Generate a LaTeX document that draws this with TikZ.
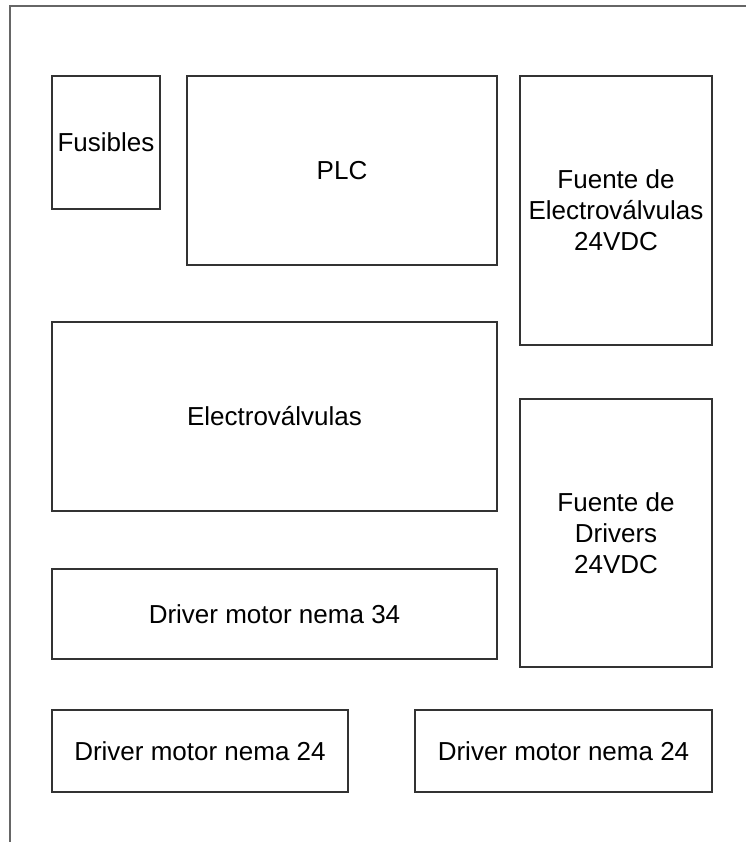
\documentclass[tikz,border=0pt]{standalone}
\usepackage{fontspec}
\setmainfont{Liberation Sans}
\usetikzlibrary{positioning}

\begin{document}
\begin{tikzpicture}[x=1pt,y=-1pt,
  blk/.style={draw=black!80,line width=1.3pt,align=center,inner sep=0pt,
    font=\fontsize{26}{31}\selectfont},
  frame/.style={draw=black!60,line width=1.8pt}]
  \useasboundingbox (0,0) rectangle (746,842);
  % panel frame
  \draw[frame] (10,842) -- (10,6) -- (746,6);
  % top row
  \node[blk,minimum width=108pt,minimum height=133pt] (fus) at (106,142.5){Fusibles};
  \node[blk,minimum width=310pt,minimum height=189pt] (plc) at (342,170.5){PLC};
  \node[blk,minimum width=192pt,minimum height=269pt] (fev) at (616,210.5)
    {Fuente de\\Electroválvulas\\24VDC};
  % valves and drivers supply
  \node[blk,minimum width=445pt,minimum height=189pt] (ev) at (274.5,416.5){Electroválvulas};
  \node[blk,minimum width=192pt,minimum height=268pt] (fdr) at (616,533)
    {Fuente de\\Drivers\\24VDC};
  % drivers
  \node[blk,minimum width=445pt,minimum height=90pt] (dr34) at (274.5,614){Driver motor nema 34};
  \node[blk,minimum width=296pt,minimum height=82pt] (dr24a) at (200,751){Driver motor nema 24};
  \node[blk,minimum width=297pt,minimum height=82pt] (dr24b) at (563.5,751){Driver motor nema 24};
\end{tikzpicture}
\end{document}
